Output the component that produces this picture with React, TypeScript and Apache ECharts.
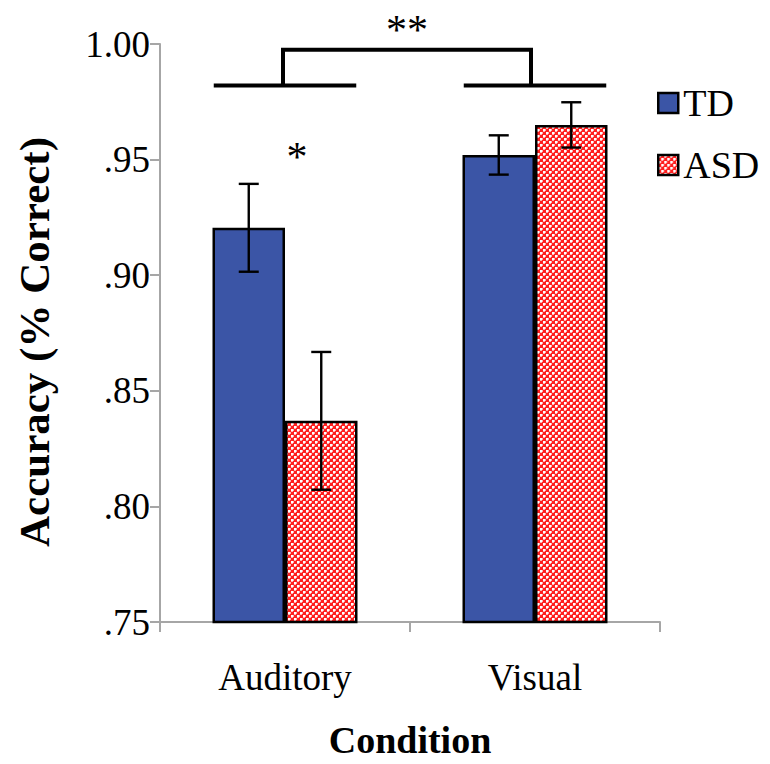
import React, { useEffect, useRef } from "react";
import * as echarts from "echarts";

const categories = ["Auditory", "Visual"];
const seriesNames = ["TD", "ASD"];
const tdValues = [0.9205, 0.952];
const asdValues = [0.837, 0.965];
const tdErr = [0.019, 0.0085];
const asdErr = [0.0298, 0.0098];
const yMin = 0.75;
const yMax = 1.0;
const yStep = 0.05;
// significance annotations
const groupSigLevel = 0.982; // lower bracket lines
const groupSigTop = 0.9975; // top bracket line
const groupSigLabel = "**";
const withinSigLabel = "*";
const withinSigCat = 0;
const withinSigLevel = 0.951;

const FONT = "'Liberation Serif', 'Times New Roman', serif";
const BLUE = "#3b55a6";
const BAR_FRAC = 0.29;

function makePattern(): HTMLCanvasElement {
  const c = document.createElement("canvas");
  c.width = 6;
  c.height = 6;
  const ctx = c.getContext("2d")!;
  ctx.fillStyle = "#ff1f1f";
  ctx.fillRect(0, 0, 6, 6);
  ctx.fillStyle = "#ffffff";
  ctx.fillRect(0, 0, 2, 2);
  ctx.fillRect(3, 3, 2, 2);
  ctx.fillStyle = "#ffb0b0";
  ctx.fillRect(2, 0, 1, 2);
  ctx.fillRect(0, 2, 2, 1);
  ctx.fillRect(5, 3, 1, 2);
  ctx.fillRect(3, 5, 2, 1);
  return c;
}

export default function App() {
  const ref = useRef<HTMLDivElement>(null);
  useEffect(() => {
    if (!ref.current) return;
    const chart = echarts.init(ref.current, undefined, { renderer: "svg" });
    const pattern = makePattern();
    const asdColor: any = { image: pattern, repeat: "repeat" };

    const errData = (vals: number[], errs: number[], side: number) =>
      vals.map((v, i) => [i, v - errs[i], v + errs[i], side]);

    const errRender = (params: any, api: any) => {
      const cat = api.value(0);
      const lo = api.coord([cat, api.value(1)]);
      const hi = api.coord([cat, api.value(2)]);
      const side = api.value(3);
      const band = api.size([1, 0])[0];
      const x = lo[0] + (side * band * BAR_FRAC) / 2;
      const cap = 10;
      const st = { stroke: "#000", lineWidth: 2.4, fill: "none" };
      return {
        type: "group",
        children: [
          { type: "line", shape: { x1: x, y1: lo[1], x2: x, y2: hi[1] }, style: st },
          { type: "line", shape: { x1: x - cap, y1: lo[1], x2: x + cap, y2: lo[1] }, style: st },
          { type: "line", shape: { x1: x - cap, y1: hi[1], x2: x + cap, y2: hi[1] }, style: st },
        ],
      };
    };

    const sigRender = (params: any, api: any) => {
      const band = api.size([1, 0])[0];
      const a = api.coord([0, groupSigLevel]);
      const b = api.coord([1, groupSigLevel]);
      const topY = api.coord([0, groupSigTop])[1];
      const half = band * 0.285;
      const st = { stroke: "#000", lineWidth: 4, fill: "none" };
      const ws = api.coord([withinSigCat, withinSigLevel]);
      return {
        type: "group",
        children: [
          { type: "line", shape: { x1: a[0] - half, y1: a[1], x2: a[0] + half, y2: a[1] }, style: st },
          { type: "line", shape: { x1: b[0] - half, y1: b[1], x2: b[0] + half, y2: b[1] }, style: st },
          {
            type: "polyline",
            shape: { points: [[a[0] - 2, a[1]], [a[0] - 2, topY], [b[0] - 4, topY], [b[0] - 4, b[1]]] },
            style: st,
          },
          {
            type: "text",
            style: {
              text: groupSigLabel,
              x: (a[0] + b[0]) / 2 - 3,
              y: topY - 20,
              align: "center",
              verticalAlign: "middle",
              font: `42px ${FONT}`,
              fill: "#000",
            },
          },
          {
            type: "text",
            style: {
              text: withinSigLabel,
              x: ws[0] + 12,
              y: ws[1],
              align: "center",
              verticalAlign: "middle",
              font: `42px ${FONT}`,
              fill: "#000",
            },
          },
        ],
      };
    };

    chart.setOption({
      animation: false,
      textStyle: { fontFamily: FONT, color: "#000" },
      grid: { left: 160, right: 110, top: 44, bottom: 135 },
      legend: {
        orient: "vertical",
        left: 652,
        top: 79,
        itemWidth: 20,
        itemHeight: 20,
        itemGap: 24,
        icon: "rect",
        data: seriesNames,
        textStyle: { fontFamily: FONT, fontSize: 38, color: "#000" },
        itemStyle: { borderColor: "#000", borderWidth: 2.5 },
      },
      xAxis: {
        type: "category",
        data: categories,
        axisLine: { lineStyle: { color: "#a6a6a6", width: 2 } },
        axisTick: { show: true, length: 10, lineStyle: { color: "#a6a6a6", width: 2 } },
        axisLabel: { fontFamily: FONT, fontSize: 37, color: "#000", margin: 37 },
        name: "Condition",
        nameLocation: "middle",
        nameGap: 99,
        nameTextStyle: { fontFamily: FONT, fontSize: 38, fontWeight: "bold", color: "#000" },
      },
      yAxis: {
        type: "value",
        min: yMin,
        max: yMax,
        interval: yStep,
        splitLine: { show: false },
        axisLine: { show: true, lineStyle: { color: "#a6a6a6", width: 2 } },
        axisTick: { show: true, length: 10, lineStyle: { color: "#a6a6a6", width: 2 } },
        axisLabel: {
          fontFamily: FONT,
          fontSize: 37,
          color: "#000",
          margin: 10,
          formatter: (v: number) => (v >= 1 ? v.toFixed(2) : v.toFixed(2).replace(/^0/, "")),
        },
        name: "Accuracy (% Correct)",
        nameLocation: "middle",
        nameGap: 104,
        nameTextStyle: {
          fontFamily: FONT,
          fontSize: 43,
          fontWeight: "bold",
          color: "#000",
          padding: [0, 18, 0, 0],
        },
      },
      series: [
        {
          name: "TD",
          type: "bar",
          data: tdValues,
          barWidth: `${BAR_FRAC * 100}%`,
          barGap: "0%",
          itemStyle: { color: BLUE, borderColor: "#000", borderWidth: 2.5 },
        },
        {
          name: "ASD",
          type: "bar",
          data: asdValues,
          barWidth: `${BAR_FRAC * 100}%`,
          barGap: "0%",
          itemStyle: { color: asdColor, borderColor: "#000", borderWidth: 2.5 },
        },
        {
          type: "custom",
          name: "errTD",
          data: errData(tdValues, tdErr, -1),
          renderItem: errRender,
          encode: { x: 0, y: [1, 2] },
          z: 5,
          silent: true,
        },
        {
          type: "custom",
          name: "errASD",
          data: errData(asdValues, asdErr, 1),
          renderItem: errRender,
          encode: { x: 0, y: [1, 2] },
          z: 5,
          silent: true,
        },
        {
          type: "custom",
          name: "sig",
          data: [[0, groupSigTop]],
          renderItem: sigRender,
          encode: { x: 0, y: 1 },
          clip: false,
          z: 6,
          silent: true,
        },
      ],
    });
    return () => chart.dispose();
  }, []);
  return (
    <div
      ref={ref}
      style={{ position: "fixed", left: 0, top: 0, width: 770, height: 764, background: "#fff" }}
    />
  );
}
